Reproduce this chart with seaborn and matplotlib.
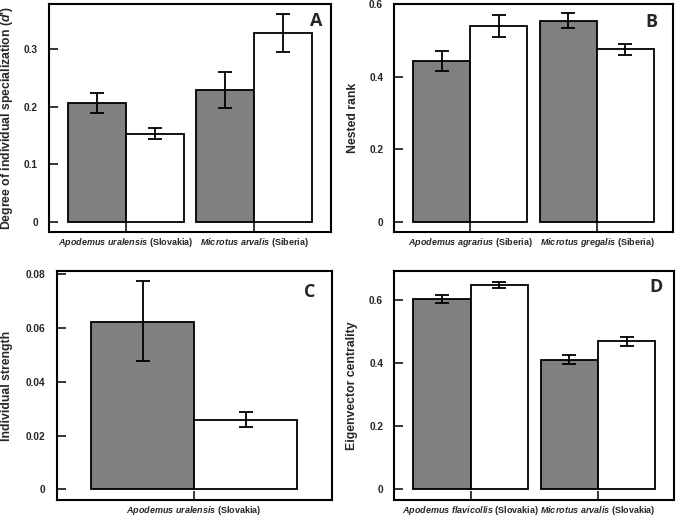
import numpy as np
import pandas as pd
import matplotlib
matplotlib.use("Agg")
import matplotlib.pyplot as plt
import seaborn as sns

sns.set_style("ticks")
plt.rcParams['font.family'] = ['Liberation Sans', 'DejaVu Sans']
plt.rcParams['font.weight'] = 'bold'
plt.rcParams['mathtext.fontset'] = 'custom'
plt.rcParams['mathtext.it'] = 'Liberation Sans:italic:bold'
plt.rcParams['mathtext.rm'] = 'Liberation Sans:bold'

# grupos (barra cinza e barra branca) em cada especie
grupos = ["grupo 1", "grupo 2"]
cores = ["#808080", "#ffffff"]

# Painel A - grau de especializacao individual
especies_a = [r"$Apodemus\ uralensis$ (Slovakia)", r"$Microtus\ arvalis$ (Siberia)"]
media_a = [0.207, 0.153, 0.229, 0.328]   # especie1 cinza, especie1 branco, especie2 cinza, especie2 branco
inf_a = [0.189, 0.143, 0.198, 0.294]
sup_a = [0.224, 0.163, 0.260, 0.361]

# Painel B - nested rank
especies_b = [r"$Apodemus\ agrarius$ (Siberia)", r"$Microtus\ gregalis$ (Siberia)"]
media_b = [0.445, 0.541, 0.555, 0.476]
inf_b = [0.416, 0.511, 0.535, 0.459]
sup_b = [0.472, 0.571, 0.575, 0.492]

# Painel C - individual strength
especies_c = [r"$Apodemus\ uralensis$ (Slovakia)"]
media_c = [0.0624, 0.0259]
inf_c = [0.0477, 0.0233]
sup_c = [0.0773, 0.0288]

# Painel D - eigenvector centrality
especies_d = [r"$Apodemus\ flavicollis$ (Slovakia)", r"$Microtus\ arvalis$ (Slovakia)"]
media_d = [0.603, 0.647, 0.410, 0.468]
inf_d = [0.590, 0.637, 0.397, 0.453]
sup_d = [0.615, 0.656, 0.424, 0.482]


def painel(ax, especies, media, inf, sup, ylim, yticks, ylabel, letra, letra_pos, label_x):
    df = pd.DataFrame({
        "especie": np.repeat(especies, len(grupos)),
        "grupo": grupos * len(especies),
        "valor": media,
        "inf": inf,
        "sup": sup,
    })
    sns.barplot(data=df, x="especie", y="valor", hue="grupo", palette=cores,
                width=0.9, edgecolor="black", linewidth=1.3, saturation=1,
                legend=False, ax=ax)
    # barras de erro: patches saem em ordem grupo -> especie
    n = len(especies)
    for i, g in enumerate(grupos):
        for j, e in enumerate(especies):
            p = ax.patches[i * n + j]
            linha = df[(df.especie == e) & (df.grupo == g)].iloc[0]
            x = p.get_x() + p.get_width() / 2
            ax.errorbar(x, linha.valor,
                        yerr=[[linha.valor - linha.inf], [linha.sup - linha.valor]],
                        fmt="none", ecolor="black", elinewidth=1.3,
                        capsize=4.8, capthick=1.3)
    ax.set_xlim(-0.6, n - 1 + 0.6)
    ax.set_ylim(*ylim)
    ax.set_yticks(yticks, [("0" if t == 0 else f"{t:g}") for t in yticks])
    ax.set_xlabel("")
    ax.set_ylabel(ylabel, fontsize=8.8, fontweight="bold", va="center")
    ax.yaxis.set_label_coords(label_x, 0.5)
    ax.tick_params(direction="in", length=6.5, width=1.3)
    ax.tick_params(axis="y", pad=8, labelsize=7.3)
    ax.tick_params(axis="x", pad=3, labelsize=6.5)
    for s in ax.spines.values():
        s.set_linewidth(1.5)
        s.set_color("black")
    ax.text(letra_pos[0], letra_pos[1], letra, transform=ax.transAxes,
            ha="right", va="top", fontsize=13, fontweight="bold",
            family=["Open Sans", "DejaVu Sans"])


fig = plt.figure(figsize=(6.77, 5.16), dpi=100)
ax_a = fig.add_axes([0.0724, 0.5504, 0.4165, 0.4419])
ax_b = fig.add_axes([0.5824, 0.5504, 0.4117, 0.4419])
ax_c = fig.add_axes([0.0837, 0.0304, 0.4062, 0.4444])
ax_d = fig.add_axes([0.5824, 0.0304, 0.4136, 0.4444])

painel(ax_a, especies_a, media_a, inf_a, sup_a, (-0.0174, 0.378), [0, 0.1, 0.2, 0.3],
       "Degree of individual specialization ($d$')", "A", (0.968, 0.965), -0.15)
painel(ax_b, especies_b, media_b, inf_b, sup_b, (-0.0277, 0.601), [0, 0.2, 0.4, 0.6],
       "Nested rank", "B", (0.946, 0.96), -0.147)
painel(ax_c, especies_c, media_c, inf_c, sup_c, (-0.0041, 0.0812), [0, 0.02, 0.04, 0.06, 0.08],
       "Individual strength", "C", (0.939, 0.948), -0.182)
painel(ax_d, especies_d, media_d, inf_d, sup_d, (-0.035, 0.691), [0, 0.2, 0.4, 0.6],
       "Eigenvector centrality", "D", (0.959, 0.968), -0.152)

fig.savefig("out.png", dpi=100)
